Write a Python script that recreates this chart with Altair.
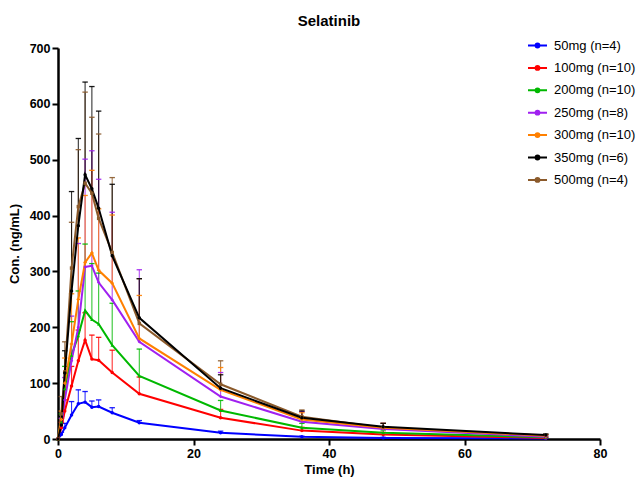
import altair as alt
import pandas as pd

times = [0, 0.5, 1, 2, 3, 4, 5, 6, 8, 12, 24, 36, 48, 72]

doses = ["50mg (n=4)", "100mg (n=10)", "200mg (n=10)", "250mg (n=8)",
         "300mg (n=10)", "350mg (n=6)", "500mg (n=4)"]
colors = ["#0000FF", "#FF0000", "#00B800", "#A020F0", "#FF8000", "#000000", "#8B5A2B"]
shapes = ["circle", "circle", "triangle-up", "diamond", "cross", "circle", "square"]
marker_sizes = [12, 12, 12, 12, 12, 36, 36]

mean_50 = [0, 8, 20, 43, 63, 66, 57, 58, 47, 29, 11, 4, 2, 1]
sd_50 = [0, 4, 8, 24, 25, 19, 11, 12, 9, 4, 3, 1, 1, 0.5]
mean_100 = [0, 20, 50, 95, 140, 177, 143, 141, 119, 81, 38, 15, 8, 2]
sd_100 = [0, 10, 20, 35, 55, 49, 43, 41, 40, 30, 15, 6, 4, 1]
mean_200 = [0, 30, 90, 150, 185, 230, 214, 206, 168, 113, 51, 20, 11, 3]
sd_200 = [0, 15, 40, 60, 80, 119, 100, 91, 75, 48, 18, 8, 5, 1]
mean_250 = [0, 25, 70, 140, 200, 308, 310, 280, 249, 174, 76, 31, 18, 4]
sd_250 = [0, 12, 40, 80, 150, 193, 206, 185, 157, 129, 43, 18, 10, 2]
mean_300 = [0, 35, 100, 170, 250, 316, 333, 302, 279, 180, 88, 35, 20, 6]
sd_300 = [0, 15, 45, 90, 110, 120, 148, 110, 122, 77, 40, 12, 8, 2]
mean_350 = [0, 25, 118, 265, 382, 473, 448, 413, 328, 217, 91, 38, 22, 7]
sd_350 = [0, 15, 40, 178, 156, 166, 183, 174, 128, 70, 24, 12, 6, 2]
mean_500 = [0, 45, 120, 306, 416, 458, 440, 395, 334, 207, 98, 40, 20, 6]
sd_500 = [0, 31, 54, 82, 102, 163, 136, 151, 134, 80, 42, 12, 8, 2]

means = [mean_50, mean_100, mean_200, mean_250, mean_300, mean_350, mean_500]
sds = [sd_50, sd_100, sd_200, sd_250, sd_300, sd_350, sd_500]

draw_order = [6, 0, 1, 2, 3, 4, 5]
rows = []
for i in draw_order:
    for t, m, s in zip(times, means[i], sds[i]):
        rows.append({"dose": doses[i], "series": doses[i], "time": t, "conc": m, "sd": s})
df = pd.DataFrame(rows)

FONT = "Liberation Sans"

x = alt.X("time:Q", scale=alt.Scale(domain=[0, 80], nice=False),
          axis=alt.Axis(title="Time (h)", values=[0, 20, 40, 60, 80]))
y = alt.Y("conc:Q", scale=alt.Scale(domain=[0, 700], nice=False),
          axis=alt.Axis(title="Con. (ng/mL)", values=list(range(0, 701, 100))))

color_scale = alt.Scale(domain=doses, range=colors)

legend_symbol = "M-1,0L1,0M0.2,0A0.2,0.2,0,1,1,-0.2,0A0.2,0.2,0,1,1,0.2,0"
legend = alt.Legend(title=None, orient="none", legendX=469, legendY=-13,
                    symbolType=legend_symbol, symbolSize=361,
                    symbolStrokeWidth=2, labelFontSize=13,
                    labelFont=FONT, labelOffset=6, rowPadding=4.4,
                    labelColor="black", symbolOpacity=1)
color_leg = alt.Color("dose:N", scale=color_scale, legend=legend)
color = alt.Color("dose:N", scale=color_scale, legend=None)

lines = alt.Chart(df).mark_line(strokeWidth=2).encode(
    x=x, y=y, color=color_leg, detail="dose:N",
)

err = alt.Chart(df).transform_filter("datum.sd > 0").transform_calculate(
    top="datum.conc + datum.sd"
)
err_rule = err.mark_rule(strokeWidth=1.1, opacity=0.8).encode(
    x="time:Q", y="conc:Q", y2="top:Q", color=color,
)
cap = err.transform_calculate(
    x1="datum.time - 0.4", x2="datum.time + 0.4"
).mark_rule(strokeWidth=1.3, opacity=0.9).encode(
    x="x1:Q", x2="x2:Q", y="top:Q", color=color,
)

points = alt.Chart(df).mark_point(filled=True, opacity=1).encode(
    x="time:Q", y="conc:Q",
    color=color,
    shape=alt.Shape("series:N", scale=alt.Scale(domain=doses, range=shapes), legend=None),
    size=alt.Size("series:N", scale=alt.Scale(domain=doses, range=marker_sizes), legend=None),
)

chart = alt.layer(err_rule, cap, lines, points).resolve_legend(
    color="independent"
).properties(
    width=542, height=391,
    title=alt.Title("Selatinib", fontSize=15, fontWeight="bold", font=FONT,
                    anchor="middle", offset=6, color="black"),
    autosize=alt.AutoSizeParams(type="none"),
    padding={"left": 50, "top": 40, "right": 36, "bottom": 42},
).configure_view(stroke=None).configure_axis(
    grid=False, domainColor="black", domainWidth=2.5, tickColor="black", tickWidth=2,
    tickSize=6, labelFont=FONT, labelFontWeight="bold", labelFontSize=12.5,
    labelColor="black", titleFont=FONT, titleFontWeight="bold", titleFontSize=13,
    titleColor="black", labelPadding=2, labelFlush=False,
).configure_axisX(titlePadding=4).configure_axisY(titlePadding=8)

chart.save("out.html", embed_options={"renderer": "svg", "actions": False})
